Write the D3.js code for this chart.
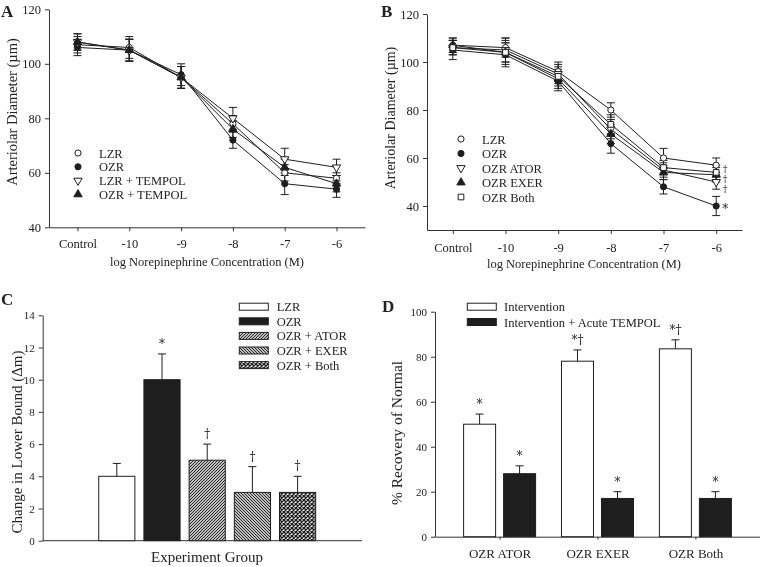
<!DOCTYPE html>
<html>
<head>
<meta charset="utf-8">
<script src="https://cdn.jsdelivr.net/npm/d3@7"></script>
<style>
  body { margin: 0; background: #fff; }
  svg { will-change: transform; }
  svg text { font-family: "Liberation Serif", "Times New Roman", serif; fill: #222; -webkit-font-smoothing: antialiased; }
  svg text.mark { font-family: "DejaVu Serif", "Liberation Serif", serif; fill: #222; opacity: 0.99; }
  .axis path, .axis line { stroke: #333; }
</style>
</head>
<body>
<svg id="fig" width="760" height="567"></svg>
<script>
// ===========
// DATA
// ===========

const doses = ["Control", "-10", "-9", "-8", "-7", "-6"];

// Panel A - arteriolar diameter, mean and SE
const aNames = ["LZR", "OZR", "LZR + TEMPOL", "OZR + TEMPOL"];
const aLZR = [107, 106, 95, 78, 60, 58];
const aOZR = [106, 105, 96, 72, 56, 54];
const aLZRTempol = [108, 105, 95, 80, 65, 62];
const aOZRTempol = [108, 105, 95, 76, 62, 56];
const aLZRErr = [3, 4, 4, 3, 3, 2];
const aOZRErr = [3, 4, 4, 3, 4, 3];
const aLZRTempolErr = [3, 4, 4, 4, 4, 3];
const aOZRTempolErr = [3, 4, 4, 3, 3, 3];
const aTicks = [40, 60, 80, 100, 120];

// Panel B
const bNames = ["LZR", "OZR", "OZR ATOR", "OZR EXER", "OZR Both"];
const bLZR = [107, 106, 96, 80, 60, 57];
const bOZR = [105, 103, 92, 66, 48, 40];
const bATOR = [106, 105, 95, 72, 55, 50];
const bEXER = [107, 104, 93, 70, 54, 53];
const bBoth = [106, 104, 94, 74, 56, 54];
const bLZRErr = [3, 4, 4, 3, 4, 3];
const bOZRErr = [4, 5, 4, 4, 3, 4];
const bATORErr = [3, 5, 4, 4, 3, 3];
const bEXERErr = [3, 4, 4, 4, 3, 3];
const bBothErr = [3, 5, 4, 4, 3, 3];
const bTicks = [40, 60, 80, 100, 120];
// significance marks next to the -6 points (value = vertical spot)
const bMarks = ["†", "†", "†", "*"];
const bMarkAt = [55.8, 51.6, 47.4, 40];

// Panel C - change in lower bound
const cGroups = ["LZR", "OZR", "OZR + ATOR", "OZR + EXER", "OZR + Both"];
const cValues = [4, 10, 5, 3, 3];
const cErrTop = [4.8, 11.6, 6.0, 4.6, 4.0];
const cMarks = ["", "*", "†", "†", "†"];
const cTicks = [0, 2, 4, 6, 8, 10, 12, 14];

// Panel D - % recovery of normal
const dGroups = ["OZR ATOR", "OZR EXER", "OZR Both"];
const dSeries = ["Intervention", "Intervention + Acute TEMPOL"];
const dIntervention = [50, 78, 83.5];
const dTempol = [28, 17, 17];
const dInterventionErrTop = [54.5, 83, 87.5];
const dTempolErrTop = [31.5, 20, 20];
const dInterventionMarks = ["*", "*†", "*†"];
const dTempolMarks = ["*", "*", "*"];
const dTicks = [0, 20, 40, 60, 80, 100];

// ===========
// SETUP
// ===========

const svg = d3.select("#fig");
const ink = "#1e1e1e";

const defs = svg.append("defs");

function hatch(id, d, size, width) {
  const p = defs.append("pattern")
    .attr("id", id)
    .attr("patternUnits", "userSpaceOnUse")
    .attr("width", size).attr("height", size);
  p.append("rect").attr("width", size).attr("height", size).attr("fill", "#fff");
  p.append("path").attr("d", d).attr("stroke", ink).attr("stroke-width", width);
}
hatch("hatch-up", "M-1,1 L1,-1 M0,3 L3,0 M2,4 L4,2", 3, 1.1);
hatch("hatch-down", "M-1,2 L1,4 M0,0 L3,3 M2,-1 L4,1", 3, 1.1);
hatch("hatch-cross", "M0,0 L4,4 M4,0 L0,4", 4, 1.4);

const cFills = ["#fff", ink, "url(#hatch-up)", "url(#hatch-down)", "url(#hatch-cross)"];

const symbolFor = {
  openCircle: { type: d3.symbolCircle, size: 30, fill: "#fff", rot: 0 },
  fillCircle: { type: d3.symbolCircle, size: 30, fill: ink, rot: 0 },
  openDown: { type: d3.symbolTriangle, size: 30, fill: "#fff", rot: 180 },
  fillUp: { type: d3.symbolTriangle, size: 30, fill: ink, rot: 0 },
  openSquare: { type: d3.symbolSquare, size: 32, fill: "#fff", rot: 0 }
};

function panelLabel(text, x, y) {
  svg.append("text")
    .attr("x", x).attr("y", y)
    .attr("font-size", 17).attr("font-weight", "bold")
    .text(text);
}

function yTitle(text, x, y, size) {
  svg.append("text")
    .attr("text-anchor", "middle")
    .attr("font-size", size)
    .attr("transform", "translate(" + x + "," + y + ")rotate(-90)")
    .text(text);
}

function xTitle(text, x, y, size) {
  svg.append("text")
    .attr("text-anchor", "middle")
    .attr("x", x).attr("y", y)
    .attr("font-size", size)
    .text(text);
}

// ===========
// LINE PANELS (A, B)
// ===========

function linePanel(cfg) {
  const x = d3.scalePoint().domain(doses).range(cfg.xRange).padding(cfg.xPad);
  const y = d3.scaleLinear().domain(cfg.yDomain).range(cfg.yRange);

  svg.append("g")
    .attr("class", "axis")
    .attr("transform", "translate(" + cfg.xRange[0] + ",0)")
    .call(d3.axisLeft(y).tickValues(cfg.ticks).tickSize(4).tickPadding(4).tickSizeOuter(0))
    .call(g => g.selectAll("text").attr("font-size", 12.5).attr("font-family", null));

  svg.append("g")
    .attr("class", "axis")
    .attr("transform", "translate(0," + cfg.yRange[0] + ")")
    .call(d3.axisBottom(x).tickSize(4).tickPadding(cfg.xTickPad).tickSizeOuter(0))
    .call(g => g.selectAll("text").attr("font-size", 12.5).attr("font-family", null));

  const line = d3.line().x((d, i) => x(doses[i])).y(d => y(d));

  cfg.series.forEach(s => {
    svg.append("path")
      .attr("d", line(s.values))
      .attr("fill", "none")
      .attr("stroke", ink)
      .attr("stroke-width", 1);
  });

  cfg.series.forEach(s => {
    const g = svg.append("g").attr("stroke", ink).attr("stroke-width", 1);
    s.values.forEach((v, i) => {
      const cx = x(doses[i]);
      const lo = y(v - s.err[i]), hi = y(v + s.err[i]);
      g.append("line").attr("x1", cx).attr("x2", cx).attr("y1", lo).attr("y2", hi);
      g.append("line").attr("x1", cx - 4).attr("x2", cx + 4).attr("y1", lo).attr("y2", lo);
      g.append("line").attr("x1", cx - 4).attr("x2", cx + 4).attr("y1", hi).attr("y2", hi);
    });
  });

  cfg.series.forEach(s => {
    const sym = symbolFor[s.symbol];
    svg.append("g")
      .selectAll("path")
      .data(s.values)
      .enter()
      .append("path")
        .attr("d", d3.symbol().type(sym.type).size(sym.size))
        .attr("transform", (d, i) => "translate(" + x(doses[i]) + "," + y(d) + ")rotate(" + sym.rot + ")")
        .attr("fill", sym.fill)
        .attr("stroke", ink)
        .attr("stroke-width", 1);
  });

  // legend
  cfg.series.forEach((s, i) => {
    const sym = symbolFor[s.symbol];
    const ly = cfg.legend.y + i * cfg.legend.step;
    svg.append("path")
      .attr("d", d3.symbol().type(sym.type).size(sym.size))
      .attr("transform", "translate(" + cfg.legend.x + "," + ly + ")rotate(" + sym.rot + ")")
      .attr("fill", sym.fill)
      .attr("stroke", ink);
    svg.append("text")
      .attr("x", cfg.legend.x + 21).attr("y", ly + 4.5)
      .attr("font-size", 12.5)
      .text(s.name);
  });

  return { x, y };
}

// Panel A
linePanel({
  xRange: [49, 365], xPad: 0.55, xTickPad: 8,
  yDomain: [40, 120], yRange: [227.3, 9.3], ticks: aTicks,
  series: [
    { name: aNames[0], values: aLZR, err: aLZRErr, symbol: "openCircle" },
    { name: aNames[1], values: aOZR, err: aOZRErr, symbol: "fillCircle" },
    { name: aNames[2], values: aLZRTempol, err: aLZRTempolErr, symbol: "openDown" },
    { name: aNames[3], values: aOZRTempol, err: aOZRTempolErr, symbol: "fillUp" }
  ],
  legend: { x: 78, y: 153, step: 13.8 }
});
panelLabel("A", 1, 17);
yTitle("Arteriolar Diameter (µm)", 17, 112, 14.5);
xTitle("log Norepinephrine Concentration (M)", 207, 266, 12.5);

// Panel B
const bScales = linePanel({
  xRange: [427, 742], xPad: 0.49, xTickPad: 9,
  yDomain: [30, 120], yRange: [230, 14], ticks: bTicks,
  series: [
    { name: bNames[0], values: bLZR, err: bLZRErr, symbol: "openCircle" },
    { name: bNames[1], values: bOZR, err: bOZRErr, symbol: "fillCircle" },
    { name: bNames[2], values: bATOR, err: bATORErr, symbol: "openDown" },
    { name: bNames[3], values: bEXER, err: bEXERErr, symbol: "fillUp" },
    { name: bNames[4], values: bBoth, err: bBothErr, symbol: "openSquare" }
  ],
  legend: { x: 461, y: 139, step: 14.5 }
});
bMarks.forEach((m, i) => {
  svg.append("text")
    .attr("class", "mark")
    .attr("text-anchor", "middle")
    .attr("x", bScales.x("-6") + 9)
    .attr("y", bScales.y(bMarkAt[i]) + (m === "*" ? 6.5 : 3.5))
    .attr("font-size", m === "*" ? 12 : 9.5)
    .text(m);
});
panelLabel("B", 381, 17);
yTitle("Arteriolar Diameter (µm)", 395, 118, 14);
xTitle("log Norepinephrine Concentration (M)", 584, 268, 12.5);

// ===========
// PANEL C
// ===========

const cx = d3.scaleBand().domain(cGroups).range([94.2, 320.2]).paddingInner(0.2).paddingOuter(0.1);
const cy = d3.scaleLinear().domain([0, 14]).range([540.7, 315.3]);

svg.append("g")
  .attr("class", "axis")
  .attr("transform", "translate(42.7,0)")
  .call(d3.axisLeft(cy).tickValues(cTicks).tickSize(4).tickPadding(4).tickSizeOuter(0))
  .call(g => g.selectAll("text").attr("font-size", 11).attr("font-family", null));

svg.append("line")
  .attr("x1", 42.7).attr("x2", 362)
  .attr("y1", cy(0)).attr("y2", cy(0))
  .attr("stroke", "#333");

const cErr = svg.append("g").attr("stroke", ink);
cGroups.forEach((g, i) => {
  const mid = cx(g) + cx.bandwidth() / 2;
  cErr.append("line").attr("x1", mid).attr("x2", mid).attr("y1", cy(cValues[i])).attr("y2", cy(cErrTop[i]));
  cErr.append("line").attr("x1", mid - 4).attr("x2", mid + 4).attr("y1", cy(cErrTop[i])).attr("y2", cy(cErrTop[i]));
});

svg.append("g")
  .selectAll("rect")
  .data(cValues)
  .enter()
  .append("rect")
    .attr("x", (d, i) => cx(cGroups[i]))
    .attr("y", d => cy(d))
    .attr("width", cx.bandwidth())
    .attr("height", d => cy(0) - cy(d))
    .attr("fill", (d, i) => cFills[i])
    .attr("stroke", ink)
    .attr("stroke-width", 1);

svg.append("g")
  .selectAll("text")
  .data(cMarks)
  .enter()
  .append("text")
    .attr("class", "mark")
    .attr("text-anchor", "middle")
    .attr("x", (d, i) => cx(cGroups[i]) + cx.bandwidth() / 2)
    .attr("y", (d, i) => cy(cErrTop[i]) - 6)
    .attr("font-size", 12)
    .text(d => d);

// legend C
cGroups.forEach((g, i) => {
  const ly = 306.7 + i * 14.6;
  svg.append("rect")
    .attr("x", 239.3).attr("y", ly - 3.5)
    .attr("width", 29).attr("height", 7)
    .attr("fill", cFills[i]).attr("stroke", ink);
  svg.append("text")
    .attr("x", 276.7).attr("y", ly + 4.5)
    .attr("font-size", 12.5)
    .text(g);
});

panelLabel("C", 1, 305);
yTitle("Change in Lower Bound (Δm)", 22, 442, 15);
xTitle("Experiment Group", 207, 562, 15);

// ===========
// PANEL D
// ===========

const dx = d3.scalePoint().domain(dGroups).range([435, 760]).padding(0.66);
const dInner = d3.scaleBand().domain(dSeries).range([-36, 36]).paddingInner(0.2);
const dy = d3.scaleLinear().domain([0, 100]).range([536.7, 311.7]);

svg.append("g")
  .attr("class", "axis")
  .attr("transform", "translate(435,0)")
  .call(d3.axisLeft(dy).tickValues(dTicks).tickSize(4).tickPadding(4).tickSizeOuter(0))
  .call(g => g.selectAll("text").attr("font-size", 11).attr("font-family", null));

svg.append("g")
  .attr("class", "axis")
  .attr("transform", "translate(0," + dy(0) + ")")
  .call(d3.axisBottom(dx).tickSize(3).tickPadding(9).tickSizeOuter(0))
  .call(g => g.selectAll("text").attr("font-size", 13).attr("font-family", null));

const dBars = [
  { name: dSeries[0], values: dIntervention, top: dInterventionErrTop, marks: dInterventionMarks, fill: "#fff" },
  { name: dSeries[1], values: dTempol, top: dTempolErrTop, marks: dTempolMarks, fill: ink }
];

dBars.forEach(s => {
  const left = g => dx(g) + dInner(s.name);
  const errG = svg.append("g").attr("stroke", ink);
  dGroups.forEach((g, i) => {
    const mid = left(g) + dInner.bandwidth() / 2;
    errG.append("line").attr("x1", mid).attr("x2", mid).attr("y1", dy(s.values[i])).attr("y2", dy(s.top[i]));
    errG.append("line").attr("x1", mid - 4).attr("x2", mid + 4).attr("y1", dy(s.top[i])).attr("y2", dy(s.top[i]));
  });

  svg.append("g")
    .selectAll("rect")
    .data(s.values)
    .enter()
    .append("rect")
      .attr("x", (d, i) => left(dGroups[i]))
      .attr("y", d => dy(d))
      .attr("width", dInner.bandwidth())
      .attr("height", d => dy(0) - dy(d))
      .attr("fill", s.fill)
      .attr("stroke", ink);

  svg.append("g")
    .selectAll("text")
    .data(s.marks)
    .enter()
    .append("text")
      .attr("class", "mark")
      .attr("text-anchor", "middle")
      .attr("x", (d, i) => left(dGroups[i]) + dInner.bandwidth() / 2)
      .attr("y", (d, i) => dy(s.top[i]) - 6)
      .attr("font-size", 12)
      .text(d => d);
});

// legend D
dBars.forEach((s, i) => {
  const ly = 306.7 + i * 15.3;
  svg.append("rect")
    .attr("x", 467.3).attr("y", ly - 3.5)
    .attr("width", 29).attr("height", 7)
    .attr("fill", s.fill).attr("stroke", ink);
  svg.append("text")
    .attr("x", 504).attr("y", ly + 4.5)
    .attr("font-size", 12.5)
    .text(s.name);
});

panelLabel("D", 382, 312);
yTitle("% Recovery of Normal", 402, 433, 15.5);
</script>
</body>
</html>
